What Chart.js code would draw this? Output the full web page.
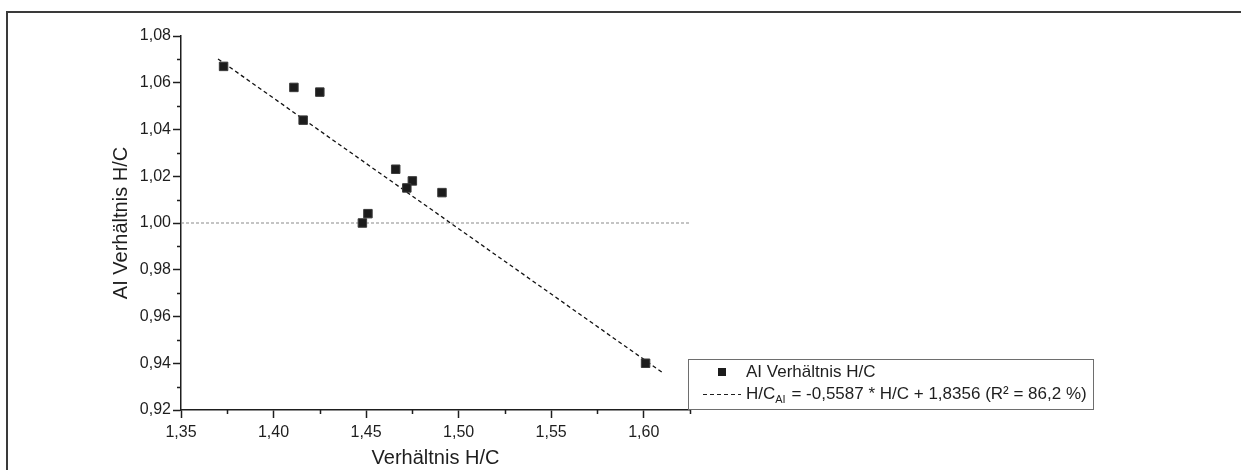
<!DOCTYPE html>
<html>
<head>
<meta charset="utf-8">
<title>AI Verhältnis H/C</title>
<script src="https://cdn.jsdelivr.net/npm/chart.js@4/dist/chart.umd.min.js"></script>
<style>
  html, body { margin: 0; padding: 0; background: #fff; }
  #wrap { position: relative; width: 1241px; height: 470px; overflow: hidden; }
  #frame {
    position: absolute; left: 6px; top: 11px; right: -4px; bottom: -4px;
    border-top: 2px solid #3a3a3a; border-left: 2px solid #3a3a3a;
    pointer-events: none;
  }
</style>
</head>
<body>
<div id="wrap">
  <canvas id="chart" width="1241" height="470" style="width:1241px;height:470px"></canvas>
  <div id="frame"></div>
</div>
<script>
const hcRatio = [1.373, 1.411, 1.425, 1.416, 1.466, 1.475, 1.472, 1.491, 1.451, 1.448, 1.601]
const aiRatio = [1.067, 1.058, 1.056, 1.044, 1.023, 1.018, 1.015, 1.013, 1.004, 1.000, 0.940]

// linear fit from the legend
const fitSlope = -0.5587
const fitIntercept = 1.8356
const fitRange = [1.37, 1.61]

// reference level
const refLevel = 1.0

// axes
const xMajorTicks = [1.35, 1.40, 1.45, 1.50, 1.55, 1.60]
const xMinorTicks = [1.375, 1.425, 1.475, 1.525, 1.575, 1.625]
const yMajorTicks = [0.92, 0.94, 0.96, 0.98, 1.00, 1.02, 1.04, 1.06, 1.08]
const yMinorTicks = [0.93, 0.95, 0.97, 0.99, 1.01, 1.03, 1.05, 1.07]

const ink = "#1e1e1e"
const fontFamily = "'Liberation Sans', Arial, sans-serif"

const fmt = (v, d) => v.toFixed(d).replace(".", ",")

const scatterData = hcRatio.map((x, i) => ({ x: x, y: aiRatio[i] }))
const fitData = fitRange.map((x) => ({ x: x, y: fitSlope * x + fitIntercept }))

// minor ticks (Chart.js has no built-in minor ticks)
const minorTicks = {
  id: "minorTicks",
  afterDraw(chart) {
    const { ctx, scales } = chart
    const x = scales.x
    const y = scales.y
    ctx.save()
    ctx.strokeStyle = ink
    ctx.lineWidth = 1.5
    ctx.beginPath()
    xMinorTicks.forEach((v) => {
      const px = Math.round(x.getPixelForValue(v)) + 0.5
      ctx.moveTo(px, y.bottom)
      ctx.lineTo(px, y.bottom + 4)
    })
    yMinorTicks.forEach((v) => {
      const py = Math.round(y.getPixelForValue(v)) + 0.5
      ctx.moveTo(x.left, py)
      ctx.lineTo(x.left - 4, py)
    })
    ctx.stroke()
    ctx.restore()
  },
}

// boxed legend with subscript in the fit label
const boxLegend = {
  id: "boxLegend",
  afterDraw(chart) {
    const { ctx, chartArea } = chart
    const left = chartArea.right - 2
    const top = 359
    const w = 405
    const h = 50
    ctx.save()
    ctx.fillStyle = "#fff"
    ctx.fillRect(left, top, w, h)
    ctx.strokeStyle = "#6e6e6e"
    ctx.lineWidth = 1
    ctx.strokeRect(left + 0.5, top + 0.5, w, h)

    const row1 = top + 13
    const row2 = top + 35
    const textX = left + 58

    // marker sample
    ctx.fillStyle = "#1c1c1c"
    ctx.fillRect(left + 30, row1 - 4, 8, 8)

    // dashed line sample
    ctx.strokeStyle = ink
    ctx.lineWidth = 1
    ctx.setLineDash([4, 3])
    ctx.beginPath()
    ctx.moveTo(left + 15, row2 + 0.5)
    ctx.lineTo(left + 53, row2 + 0.5)
    ctx.stroke()
    ctx.setLineDash([])

    ctx.fillStyle = ink
    ctx.textBaseline = "middle"
    ctx.textAlign = "left"
    ctx.font = "17px " + fontFamily
    ctx.fillText(chart.data.datasets[0].label, textX, row1)

    let cx = textX
    ctx.fillText("H/C", cx, row2)
    cx += ctx.measureText("H/C").width
    ctx.font = "11px " + fontFamily
    ctx.fillText("AI", cx, row2 + 6)
    cx += ctx.measureText("AI").width + 1
    ctx.font = "17px " + fontFamily
    ctx.fillText(
      " = " + fmt(fitSlope, 4) + " * H/C + " + fmt(fitIntercept, 4) + " (R² = 86,2 %)",
      cx,
      row2
    )
    ctx.restore()
  },
}

new Chart(document.getElementById("chart"), {
  type: "scatter",
  data: {
    datasets: [
      {
        label: "AI Verhältnis H/C",
        data: scatterData,
        pointStyle: "rect",
        pointRadius: 6,
        pointHoverRadius: 6,
        backgroundColor: "#1c1c1c",
        borderColor: "#3a3a3a",
        borderWidth: 1,
        order: 1,
      },
      {
        type: "line",
        label: "Fit",
        data: fitData,
        borderColor: "#111",
        borderWidth: 1.3,
        borderDash: [4, 3],
        pointRadius: 0,
        fill: false,
        order: 2,
      },
      {
        type: "line",
        label: "Referenz",
        data: [
          { x: 1.35, y: refLevel },
          { x: 1.625, y: refLevel },
        ],
        borderColor: "#8a8a8a",
        borderWidth: 1.2,
        borderDash: [3, 2],
        pointRadius: 0,
        fill: false,
        order: 3,
      },
    ],
  },
  options: {
    responsive: false,
    animation: false,
    events: [],
    layout: { padding: { left: 109, top: 36, right: 551, bottom: 0 } },
    plugins: {
      legend: { display: false },
      tooltip: { enabled: false },
    },
    scales: {
      x: {
        type: "linear",
        min: 1.35,
        max: 1.625,
        afterFit: (scale) => {
          scale.height = 60
        },
        afterBuildTicks: (scale) => {
          scale.ticks = xMajorTicks.map((v) => ({ value: v }))
        },
        ticks: {
          color: ink,
          padding: 5,
          maxRotation: 0,
          font: { family: fontFamily, size: 16 },
          callback: (v) => fmt(v, 2),
        },
        grid: {
          drawOnChartArea: false,
          tickLength: 8,
          tickColor: ink,
          tickWidth: 1.5,
        },
        border: { color: ink, width: 1.5 },
        title: {
          display: true,
          text: "Verhältnis H/C",
          color: ink,
          padding: 0,
          font: { family: fontFamily, size: 20 },
        },
      },
      y: {
        type: "linear",
        min: 0.92,
        max: 1.08,
        afterFit: (scale) => {
          scale.width = 72
        },
        afterBuildTicks: (scale) => {
          scale.ticks = yMajorTicks.map((v) => ({ value: v }))
        },
        ticks: {
          color: ink,
          padding: 2,
          font: { family: fontFamily, size: 16 },
          callback: (v) => fmt(v, 2),
        },
        grid: {
          drawOnChartArea: false,
          tickLength: 8,
          tickColor: ink,
          tickWidth: 1.5,
        },
        border: { color: ink, width: 1.5 },
        title: {
          display: true,
          text: "AI Verhältnis H/C",
          color: ink,
          padding: 0,
          font: { family: fontFamily, size: 20 },
        },
      },
    },
  },
  plugins: [minorTicks, boxLegend],
})
</script>
</body>
</html>
